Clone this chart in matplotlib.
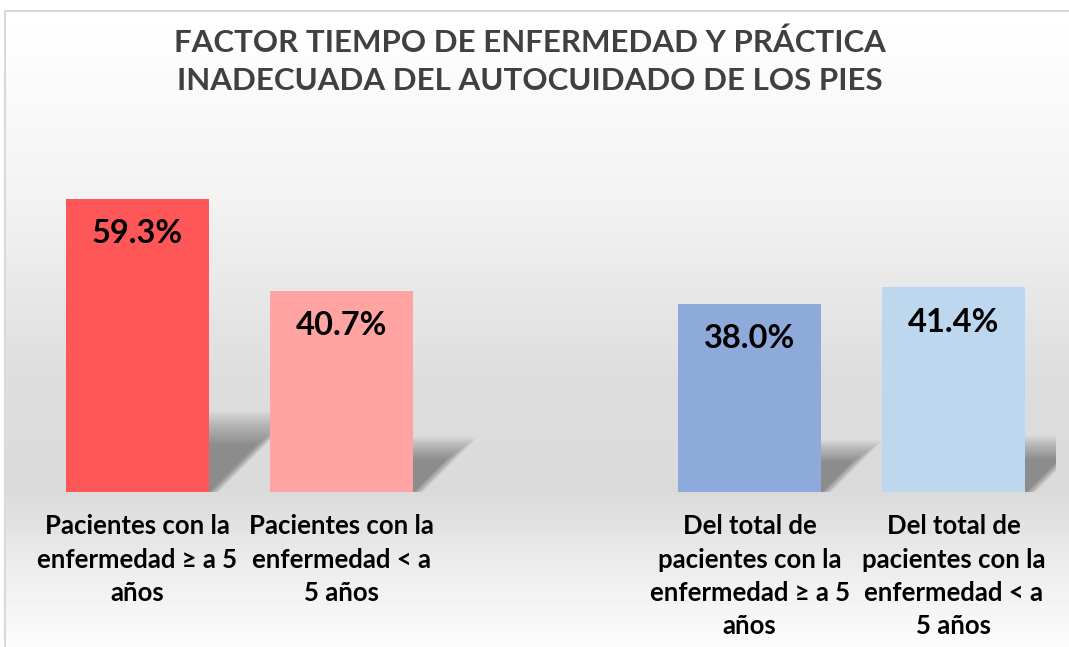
import numpy as np
import matplotlib
matplotlib.use('Agg')
import matplotlib.pyplot as plt
from matplotlib.patches import Polygon, Rectangle

plt.rcParams['font.family'] = ['Lato', 'DejaVu Sans']

title = 'FACTOR TIEMPO DE ENFERMEDAD Y PRÁCTICA\nINADECUADA DEL AUTOCUIDADO DE LOS PIES'
categories = ['Pacientes con la\nenfermedad ≥ a 5\naños',
              'Pacientes con la\nenfermedad < a\n5 años',
              '',
              'Del total de\npacientes con la\nenfermedad ≥ a 5\naños',
              'Del total de\npacientes con la\nenfermedad < a\n5 años']
values = [59.3, 40.7, np.nan, 38.0, 41.4]
bar_colors = ['#ff5757', '#ffa3a3', 'none', '#8eaadb', '#bdd7ee']

W, H = 1069, 647
fig = plt.figure(figsize=(W / 100, H / 100), dpi=100)

# background gradient (white -> gray -> white)
bg = fig.add_axes([0, 0, 1, 1], zorder=-10)
ys = np.arange(H)
stops_y = [0, 11, 200, 380, 490, 570, 647]
stops_v = [1.0, 1.0, 0.95, 0.865, 0.855, 0.93, 0.99]
g = np.interp(ys, stops_y, stops_v)
img = np.repeat(g[:, None], 4, axis=1)
bg.imshow(img, cmap='gray', vmin=0, vmax=1, aspect='auto', extent=[0, W, H, 0])
bg.add_patch(Rectangle((0, 0), W, 11, color='white'))
bg.add_patch(Rectangle((0, 0), 5, H, color='white'))
bg.plot([5, 5, W], [H, 11, 11], color='#d9d9d9', lw=1.5)
bg.set_xlim(0, W)
bg.set_ylim(H, 0)
bg.axis('off')

ax = fig.add_axes([35 / W, 155 / H, 1021 / W, 345.8 / H])
ax.set_facecolor('none')
x = np.arange(len(categories))
bw = 0.7

# soft perspective shadows behind the bars
n = 24
for xi, v in zip(x, values):
    if np.isnan(v):
        continue
    rise = 0.24 * v
    lean = 0.0058 * v
    for j in range(n):
        f = j / n
        top = rise * (1.15 - 0.5 * f)
        sh = lean * (1.15 - 0.5 * f)
        pts = [(xi - bw / 2, 0), (xi + bw / 2 + 0.05 * (1 - f), 0),
               (xi + bw / 2 + sh + 0.05 * (1 - f), top),
               (xi - bw / 2 + sh, top)]
        ax.add_patch(Polygon(pts, closed=True, color='black', alpha=0.015, lw=0, zorder=1))

bars = ax.bar(x, values, width=bw, color=bar_colors, zorder=2)
for xi, v in zip(x, values):
    if np.isnan(v):
        continue
    ax.text(xi, v - 7.0, f'{v:.1f}%', ha='center', va='center',
            fontsize=23.5, fontweight='bold', color='black', zorder=3)

ax.set_xlim(-0.5, len(categories) - 0.5)
ax.set_ylim(0, 70)
ax.set_xticks(x)
ax.set_xticklabels(categories, fontsize=18.5, fontweight='bold', linespacing=1.47)
ax.tick_params(axis='x', length=0, pad=16)
ax.set_yticks([])
for s in ax.spines.values():
    s.set_visible(False)

fig.text(530 / W, 1 - 62 / H, title, ha='center', va='center', fontsize=22.5,
         fontweight='bold', color='#404040', linespacing=1.45)

fig.savefig('out.png', dpi=100)
